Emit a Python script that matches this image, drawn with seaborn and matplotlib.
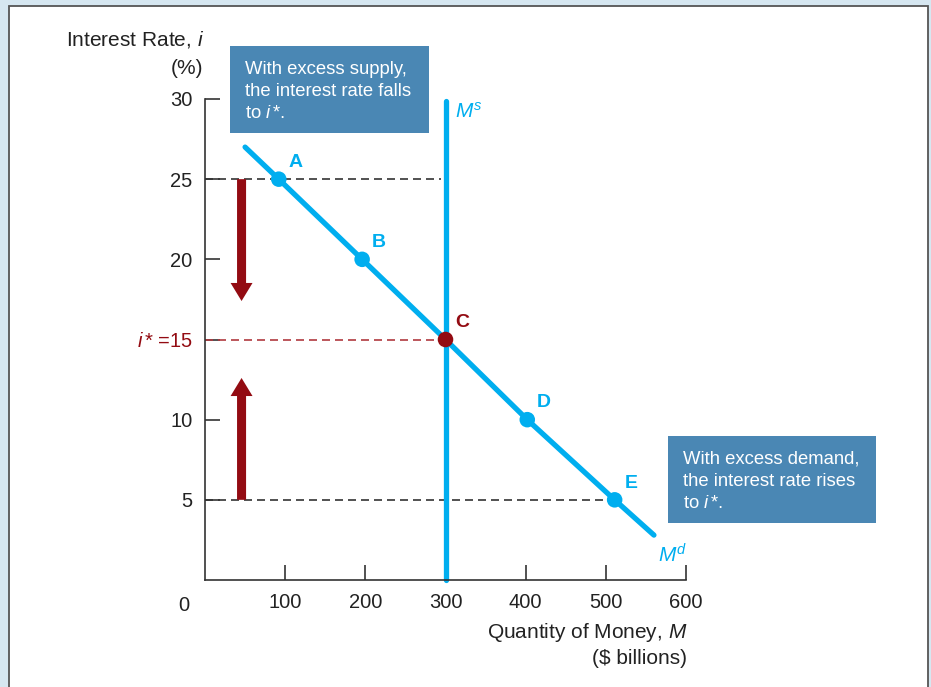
import matplotlib
matplotlib.use("Agg")
import matplotlib.pyplot as plt
from matplotlib.patches import Rectangle
import seaborn as sns
import pandas as pd

# ---- data ----
md_money = [50, 92, 196, 300, 402, 511, 560]      # money demand curve ($ billions)
md_rate = [27.0, 25, 20, 15, 10, 5, 2.8]           # interest rate (%)
point_labels = ["A", "B", "C", "D", "E"]
point_money = [92, 196, 300, 402, 511]
point_rate = [25, 20, 15, 10, 5]
ms_money = 300                                      # fixed money supply
ms_rate = [0, 29.9]
eq_rate = 15
x_ticks = [100, 200, 300, 400, 500, 600]
y_ticks = [5, 10, 15, 20, 25, 30]
y_tick_labels = ["5", "10", r"$i\,$* =15", "20", "25", "30"]
arrow_x = 45.6
down_arrow = (25, 17.4)
up_arrow = (5, 12.6)

BLUE = "#00aeef"
RED = "#930b12"
BOX = "#4a87b4"
DARK = "#333333"
TXT = "#222222"

sns.set_theme(style="white")
plt.rcParams["font.family"] = ["Liberation Sans", "DejaVu Sans"]
plt.rcParams["mathtext.fontset"] = "custom"
plt.rcParams["mathtext.rm"] = "Liberation Sans"
plt.rcParams["mathtext.it"] = "Liberation Sans:italic"
plt.rcParams["mathtext.bf"] = "Liberation Sans:bold"

W, H = 931, 687
fig = plt.figure(figsize=(W / 100, H / 100), dpi=100, facecolor="#d6e7f1")


def fx(px):
    return px / W


def fy(py):
    return 1 - py / H


# white panel with a thin frame, behind everything
fig.patches.append(Rectangle((fx(9), fy(700)), fx(928) - fx(9), fy(6) - fy(700),
                             transform=fig.transFigure, facecolor="white",
                             edgecolor="#555555", linewidth=1.3, zorder=-5))

ax = fig.add_axes([fx(205), fy(580), fx(686) - fx(205), fy(99) - fy(580)])
ax.set_facecolor("none")
ax.set_xlim(0, 600)
ax.set_ylim(0, 30)

# money demand curve and marked points
curve = pd.DataFrame({"money": md_money, "rate": md_rate})
sns.lineplot(data=curve, x="money", y="rate", ax=ax, color=BLUE, linewidth=3.8,
             sort=False, zorder=3)
for ln in ax.lines:
    ln.set_clip_on(False)
pts = pd.DataFrame({"money": point_money, "rate": point_rate, "label": point_labels})
pt_colors = [RED if lab == "C" else BLUE for lab in point_labels]
ax.scatter(pts["money"], pts["rate"], s=125, c=pt_colors, zorder=5, linewidths=0, clip_on=False)
for m, r, lab, c in zip(point_money, point_rate, point_labels, pt_colors):
    ax.annotate(lab, (m, r), xytext=(7, 6), textcoords="offset points",
                color=c, fontsize=14, fontweight="bold", ha="left", va="bottom")

# money supply
ax.plot([ms_money, ms_money], ms_rate, color=BLUE, linewidth=3.8, zorder=2, clip_on=False)
ax.annotate(r"$M^s$", (ms_money, ms_rate[1]), xytext=(7, -1), textcoords="offset points",
            color=BLUE, fontsize=15, ha="left", va="top")
ax.annotate(r"$M^d$", (md_money[-1], md_rate[-1]), xytext=(3, -6), textcoords="offset points",
            color=BLUE, fontsize=15, ha="left", va="top")

# reference dashed lines
dash = (0, (4.8, 3.0))
ax.plot([0, 294], [25, 25], color=DARK, linewidth=1.2, linestyle=dash, zorder=1)
ax.plot([0, 300], [eq_rate, eq_rate], color="#b03a40", linewidth=1.2, linestyle=dash, zorder=1)
ax.plot([0, 506], [5, 5], color=DARK, linewidth=1.2, linestyle=dash, zorder=1)

# adjustment arrows
astyle = "simple,head_length=1.3,head_width=1.58,tail_width=0.65"
for y0, y1 in (down_arrow, up_arrow):
    ax.annotate("", xy=(arrow_x, y1), xytext=(arrow_x, y0),
                arrowprops=dict(arrowstyle=astyle, color=RED, mutation_scale=10,
                                shrinkA=0, shrinkB=0, linewidth=0), zorder=4)

# axes styling
sns.despine(ax=ax)
for s in ("left", "bottom"):
    ax.spines[s].set_color(DARK)
    ax.spines[s].set_linewidth(1.2)
ax.set_xticks(x_ticks)
ax.set_xticklabels([str(v) for v in x_ticks])
ax.set_yticks(y_ticks)
ax.set_yticklabels(y_tick_labels)
ax.tick_params(axis="both", direction="in", colors=DARK, labelcolor=TXT,
               labelsize=14.5, width=1.2, bottom=True, left=True)
ax.tick_params(axis="x", length=11, pad=9)
ax.tick_params(axis="y", length=11, pad=9)
for lbl in ax.get_yticklabels():
    if "15" in lbl.get_text():
        lbl.set_color(RED)
ax.text(-20, -1.0, "0", ha="right", va="top", fontsize=14.5, color=TXT)
ax.set_xlabel("")
ax.set_ylabel("")

# axis titles
fig.text(fx(204), fy(40), r"Interest Rate, $i$", ha="right", va="center", fontsize=15, color=TXT)
fig.text(fx(203), fy(69), "(%)", ha="right", va="center", fontsize=15, color=TXT)
fig.text(fx(687), fy(632), r"Quantity of Money, $M$", ha="right", va="center", fontsize=15, color=TXT)
fig.text(fx(687), fy(658), r"(\$ billions)", ha="right", va="center", fontsize=15, color=TXT)

# callout boxes
boxes = [
    ((230, 46, 429, 133), 245, [69, 91, 113],
     ["With excess supply,", "the interest rate falls", r"to $i\,$*."]),
    ((668, 436, 876, 523), 683, [459, 481, 503],
     ["With excess demand,", "the interest rate rises", r"to $i\,$*."]),
]
for (x0, y0, x1, y1), tx, tys, lines in boxes:
    fig.patches.append(Rectangle((fx(x0), fy(y1)), fx(x1) - fx(x0), fy(y0) - fy(y1),
                                 transform=fig.transFigure, facecolor=BOX,
                                 edgecolor="none", zorder=6))
    for ty, line in zip(tys, lines):
        fig.text(fx(tx), fy(ty), line, ha="left", va="center", fontsize=13.3,
                 color="white", zorder=7)

fig.savefig("out.png", dpi=100, facecolor=fig.get_facecolor())
